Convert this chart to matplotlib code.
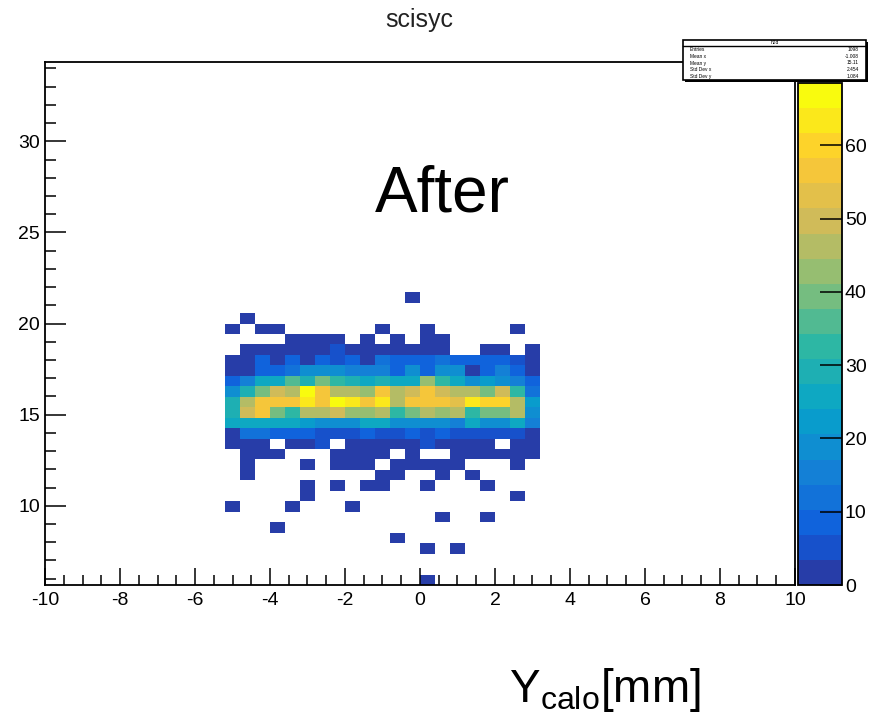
import matplotlib
matplotlib.use('Agg')
import matplotlib.pyplot as plt
import numpy as np
from matplotlib.colors import LinearSegmentedColormap, ListedColormap, BoundaryNorm
from matplotlib.patches import Rectangle
from matplotlib.lines import Line2D

plt.rcParams['font.family'] = ['Liberation Sans', 'DejaVu Sans']
plt.rcParams['mathtext.fontset'] = 'custom'
plt.rcParams['mathtext.rm'] = 'Liberation Sans'
plt.rcParams['mathtext.it'] = 'Liberation Sans'
plt.rcParams['axes.unicode_minus'] = False

# histogram binning (50 x 50 bins)
x_edges = np.linspace(-10, 10, 51)
y_edges = np.linspace(5.65, 34.35, 51)

# filled x bins start at bin 12 (x = -5.2), rows go from the bottom y bin up
first_col = 12
counts = [
    [0, 0, 0, 0, 0, 0, 0, 0, 0, 0, 0, 0, 0, 1, 0, 0, 0, 0, 0, 0, 0],
    [0, 0, 0, 0, 0, 0, 0, 0, 0, 0, 0, 0, 0, 0, 0, 0, 0, 0, 0, 0, 0],
    [0, 0, 0, 0, 0, 0, 0, 0, 0, 0, 0, 0, 0, 0, 0, 0, 0, 0, 0, 0, 0],
    [0, 0, 0, 0, 0, 0, 0, 0, 0, 0, 0, 0, 0, 1, 0, 1, 0, 0, 0, 0, 0],
    [0, 0, 0, 0, 0, 0, 0, 0, 0, 0, 0, 1, 0, 0, 0, 0, 0, 0, 0, 0, 0],
    [0, 0, 0, 1, 0, 0, 0, 0, 0, 0, 0, 0, 0, 0, 0, 0, 0, 0, 0, 0, 0],
    [0, 0, 0, 0, 0, 0, 0, 0, 0, 0, 0, 0, 0, 0, 1, 0, 0, 1, 0, 0, 0],
    [1, 0, 0, 0, 1, 0, 0, 0, 1, 0, 0, 0, 0, 0, 0, 0, 0, 0, 0, 0, 0],
    [0, 0, 0, 0, 0, 1, 0, 0, 0, 0, 0, 0, 0, 0, 0, 0, 0, 0, 0, 1, 0],
    [0, 0, 0, 0, 0, 1, 0, 1, 0, 1, 1, 0, 0, 1, 0, 0, 0, 1, 0, 0, 0],
    [0, 1, 0, 0, 0, 0, 0, 0, 0, 0, 1, 1, 0, 0, 1, 0, 1, 0, 0, 0, 0],
    [0, 1, 0, 0, 0, 1, 0, 1, 1, 1, 0, 1, 1, 1, 1, 1, 0, 0, 0, 1, 0],
    [0, 1, 2, 1, 0, 0, 0, 1, 2, 1, 1, 0, 1, 0, 0, 1, 2, 1, 1, 2, 1],
    [2, 2, 1, 0, 2, 2, 4, 0, 2, 2, 2, 2, 3, 5, 2, 2, 2, 1, 0, 2, 2],
    [3, 12, 12, 10, 7, 10, 5, 5, 5, 8, 6, 6, 10, 6, 10, 6, 6, 6, 6, 6, 3],
    [25, 25, 24, 25, 25, 22, 20, 20, 20, 25, 27, 18, 18, 20, 20, 16, 25, 20, 20, 27, 14],
    [28, 50, 55, 40, 34, 45, 45, 50, 42, 42, 45, 33, 38, 45, 42, 45, 34, 38, 38, 45, 20],
    [28, 45, 58, 58, 55, 64, 58, 68, 63, 58, 62, 45, 58, 58, 57, 54, 64, 60, 60, 45, 22],
    [18, 30, 40, 50, 46, 68, 58, 46, 46, 42, 57, 45, 50, 57, 50, 45, 45, 38, 50, 33, 12],
    [10, 14, 24, 24, 35, 28, 38, 34, 30, 25, 30, 26, 24, 42, 34, 25, 18, 23, 18, 14, 8],
    [3, 3, 9, 9, 12, 20, 18, 18, 14, 14, 15, 10, 18, 10, 18, 20, 3, 10, 16, 8, 3],
    [3, 3, 8, 3, 8, 3, 8, 4, 8, 3, 12, 8, 8, 8, 12, 9, 9, 8, 8, 4, 3],
    [0, 2, 2, 2, 2, 2, 2, 6, 2, 2, 2, 2, 2, 2, 2, 0, 0, 2, 2, 0, 2],
    [0, 0, 0, 0, 1, 1, 1, 1, 0, 1, 0, 1, 0, 1, 1, 0, 0, 0, 0, 0, 0],
    [1, 0, 1, 1, 0, 0, 0, 0, 0, 0, 1, 0, 0, 1, 0, 0, 0, 0, 0, 1, 0],
    [0, 1, 0, 0, 0, 0, 0, 0, 0, 0, 0, 0, 0, 0, 0, 0, 0, 0, 0, 0, 0],
    [0, 0, 0, 0, 0, 0, 0, 0, 0, 0, 0, 0, 0, 0, 0, 0, 0, 0, 0, 0, 0],
    [0, 0, 0, 0, 0, 0, 0, 0, 0, 0, 0, 0, 1, 0, 0, 0, 0, 0, 0, 0, 0],
]
z_max = 68.5
n_contours = 20

# stat box text
stat_title = 'h2d'
stat_names = ['Entries', 'Mean x', 'Mean y', 'Std Dev x', 'Std Dev y']
stat_values = ['1098', '-1.008', '15.11', '2.454', '1.084']

# ROOT kBird palette
bird_stops = [0.0, 0.125, 0.25, 0.375, 0.5, 0.625, 0.75, 0.875, 1.0]
bird_r = [0.2082, 0.0592, 0.0780, 0.0232, 0.1802, 0.5301, 0.8186, 0.9956, 0.9764]
bird_g = [0.1664, 0.3599, 0.5041, 0.6419, 0.7178, 0.7492, 0.7328, 0.7862, 0.9832]
bird_b = [0.5293, 0.8684, 0.8385, 0.7914, 0.6425, 0.4662, 0.3499, 0.1968, 0.0539]
bird = LinearSegmentedColormap.from_list(
    'bird', list(zip(bird_stops, zip(bird_r, bird_g, bird_b))), N=256)
# ROOT picks colour (i + 0.99) * ncolors / ncontours for contour i
band_cmap = ListedColormap([bird((i + 0.99) / n_contours) for i in range(n_contours)])
levels = np.linspace(0, z_max, n_contours + 1)
norm = BoundaryNorm(levels, n_contours)

grid = np.zeros((50, 50))
for k, row in enumerate(counts):
    grid[k, first_col:first_col + len(row)] = row

fig = plt.figure(figsize=(8.69, 7.21), dpi=100)
ax = fig.add_axes([0.0518, 0.1886, 0.863, 0.7254])
mesh = ax.pcolormesh(x_edges, y_edges, np.ma.masked_equal(grid, 0),
                     cmap=band_cmap, norm=norm, antialiased=False)
ax.set_xlim(-10, 10)
ax.set_ylim(y_edges[0], y_edges[-1])
ax.set_xticks(np.arange(-10, 11, 2))
ax.set_xticks(np.arange(-10, 10.1, 0.5), minor=True)
ax.set_yticks(np.arange(10, 31, 5))
ax.set_yticks(np.arange(6, 35, 1), minor=True)
ax.tick_params(axis='x', which='major', direction='in', length=12, width=1.1,
               labelsize=14, pad=5, top=False)
ax.tick_params(axis='x', which='minor', direction='in', length=7, width=1.1, top=False)
ax.tick_params(axis='y', which='major', direction='in', length=15, width=1.1,
               labelsize=14, pad=3.5, right=False)
ax.tick_params(axis='y', which='minor', direction='in', length=8, width=1.1, right=False)
for s in ax.spines.values():
    s.set_linewidth(1.3)

# palette axis
cax = fig.add_axes([0.9183, 0.1886, 0.0506, 0.6963])
cb = fig.colorbar(mesh, cax=cax, ticks=np.arange(0, 61, 10))
cb.outline.set_linewidth(1.3)
cax.tick_params(direction='in', length=16, width=1.1, labelsize=14, pad=2)
cax.minorticks_off()

fig.text(0.483, 0.963, 'scisyc', ha='center', va='baseline', fontsize=18, color='#222222')
fig.text(0.4315, 0.706, 'After', ha='left', va='baseline', fontsize=46)
fig.text(0.806, 0.026, r'Y$_{\mathrm{calo}}$[mm]', ha='right', va='baseline', fontsize=33)

# stat box
bx0, bx1 = 683 / 869, 866 / 869
by0, by1 = 1 - 80 / 721, 1 - 40 / 721
fig.patches.append(Rectangle((bx0 + 0.002, by0 - 0.003), bx1 - bx0, by1 - by0,
                             transform=fig.transFigure, facecolor='black', zorder=5))
fig.patches.append(Rectangle((bx0, by0), bx1 - bx0, by1 - by0, transform=fig.transFigure,
                             facecolor='white', edgecolor='black', linewidth=1.2, zorder=6))
sep_y = 1 - 46 / 721
fig.lines.append(Line2D([bx0, bx1], [sep_y, sep_y], transform=fig.transFigure,
                        color='black', linewidth=1, zorder=7))
fig.text((bx0 + bx1) / 2, (sep_y + by1) / 2, stat_title, ha='center', va='center',
         fontsize=3.5, zorder=8)
row_h = (sep_y - by0) / len(stat_names)
for i, (name, val) in enumerate(zip(stat_names, stat_values)):
    yy = sep_y - row_h * (i + 0.5)
    fig.text(bx0 + 0.008, yy, name, ha='left', va='center', fontsize=3.5, zorder=8)
    fig.text(bx1 - 0.008, yy, val, ha='right', va='center', fontsize=3.5, zorder=8)

fig.savefig('out.png', dpi=100)
